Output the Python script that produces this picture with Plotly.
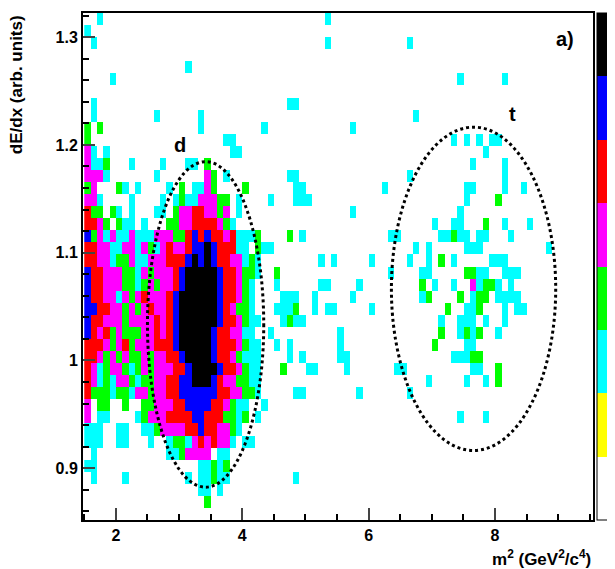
import plotly.graph_objects as go

# 2D histogram: dE/dx vs m^2, levels 1..8 (white, yellow, cyan, green, magenta, red, blue, black)
x_start, x_bin, n_x = 1.5, 0.1, 80
y_start, y_bin, n_y = 0.852, 0.0112, 42

# left part of the histogram (deuteron region), one string per row, top row first
rows_left = [
    "..3",
    "3",
    ".3",
    "",
    "................3",
    "....3",
    "",
    ".3...............................3",
    ".3.........3......3",
    "4.4...............3.........3",
    "4.....................33",
    "53.3...................33",
    "5334...3....3...33.4",
    "5553.......3.......54.3..........3",
    "45...43.3....3.4.3354....4........3",
    "553....3....3.343355544.3....3.....3",
    "644.43.3...33.455665545.3",
    "6654.433.3...44556666543",
    "7453533533355544676766563334....4",
    "66553355354356556778766633.433",
    "6655344533555666787876655343",
    "7665554435455567888887665443..4",
    "766555443454556788888766543...3",
    "766553545655567888888766543....33",
    "776655454565567888888765443...33.4",
    "7665554555565678888887665433...33.3",
    "765645444556567888887665533..3",
    "6665456455566678888876665433..3",
    "6654545445455667888876654333....3",
    "6534554345455566788887665433...4",
    "6534355434455667788876554433",
    "6444344355455667777776655443.....3",
    "5.44..4..44555667777665433..3",
    "5.33....345556666776664434.3",
    "333..33..3345555667665543",
    "333..33...3..34435656553.33",
    ".3...........3345555.33",
    "33................33434",
    ".3....3.........3.33433..........3",
    "..................33.3",
    "...................4",
    "",
]

# sparse cells further right (column, row-from-bottom, level)
right_col = [38, 38, 51, 59, 66, 32, 52, 42, 58, 60, 62, 64, 65, 63, 61, 66, 66, 32, 51,
             33, 47, 60, 61, 66, 69, 33, 34, 60, 65, 42, 59,
             55, 58, 59, 63, 66, 70,
             34, 48, 49, 56, 57, 58, 59, 60, 62, 63, 67,
             52, 54, 60, 61, 62, 73,
             37, 39, 45, 51, 54, 56, 58, 64, 65, 66,
             48, 53, 54, 60, 61, 62, 63, 66, 67, 68,
             37, 38, 43, 53, 55, 58, 61, 62, 63, 64, 65, 67,
             33, 36, 42, 53, 54, 59, 61, 62, 63, 65, 66, 67, 68,
             32, 36, 38, 39, 45, 57, 60, 61, 62, 66, 68, 69,
             32, 33, 34, 56, 59, 60, 61, 63, 66,
             40, 56, 59, 60, 61, 62, 65,
             32, 40, 55, 60, 61,
             32, 34, 40, 41, 58, 59, 60, 61, 62,
             35, 36, 41, 49, 50, 61, 62, 65,
             54, 60, 63, 65,
             34, 43, 51,
             59, 63]
right_row = [41, 39, 39, 36, 36, 34, 33, 32, 31, 31, 31, 31, 31, 30, 29, 29, 28, 28, 28,
             27, 27, 27, 27, 27, 27, 26, 26, 26, 26, 25, 25,
             24, 24, 24, 24, 24, 24,
             23, 23, 23, 23, 23, 23, 23, 23, 23, 23, 23,
             22, 22, 22, 22, 22, 22,
             21, 21, 21, 21, 21, 21, 21, 21, 21, 21,
             20, 20, 20, 20, 20, 20, 20, 20, 20, 20,
             19, 19, 19, 19, 19, 19, 19, 19, 19, 19, 19, 19,
             18, 18, 18, 18, 18, 18, 18, 18, 18, 18, 18, 18, 18,
             17, 17, 17, 17, 17, 17, 17, 17, 17, 17, 17, 17,
             16, 16, 16, 16, 16, 16, 16, 16, 16,
             15, 15, 15, 15, 15, 15, 15,
             14, 14, 14, 14, 14,
             13, 13, 13, 13, 13, 13, 13, 13, 13,
             12, 12, 12, 12, 12, 12, 12, 12,
             11, 11, 11, 11,
             10, 10, 10,
             8, 8]
right_level = [3, 3, 3, 3, 3, 3, 3, 3, 3, 3, 3, 3, 3, 3, 3, 3, 3, 3, 3,
               3, 3, 3, 3, 3, 3, 3, 3, 3, 4, 3, 3,
               3, 3, 3, 4, 3, 3,
               3, 3, 3, 3, 3, 4, 3, 3, 3, 3, 3,
               3, 3, 3, 3, 3, 3,
               3, 3, 3, 3, 3, 4, 3, 3, 3, 3,
               3, 3, 3, 4, 4, 3, 3, 3, 3, 3,
               3, 3, 3, 4, 3, 3, 5, 3, 4, 4, 3, 3,
               3, 3, 3, 3, 4, 4, 3, 4, 4, 3, 3, 3, 3,
               3, 3, 3, 3, 3, 4, 3, 3, 4, 3, 3, 3,
               4, 3, 3, 3, 3, 3, 3, 3, 3,
               3, 4, 3, 4, 3, 4, 3,
               3, 3, 4, 3, 3,
               3, 3, 3, 3, 3, 3, 3, 4, 4,
               3, 3, 3, 3, 3, 3, 3, 4,
               3, 3, 3, 4,
               3, 3, 3,
               3, 3]

# build the grid (row 0 = bottom)
z = [[None] * n_x for _ in range(n_y)]
for k, s in enumerate(rows_left):
    j = n_y - 1 - k
    for i, ch in enumerate(s):
        if ch != ".":
            z[j][i] = int(ch)
for i, j, v in zip(right_col, right_row, right_level):
    z[j][i] = v

level_colors = ["#ffffff", "#ffff00", "#00ffff", "#00ff00", "#ff00ff", "#ff0000", "#0000ff", "#000000"]
cs = []
for k, c in enumerate(level_colors):
    cs.append([k / 8, c])
    cs.append([(k + 1) / 8, c])

fig = go.Figure(go.Heatmap(
    z=z, x0=x_start + x_bin / 2, dx=x_bin, y0=y_start + y_bin / 2, dy=y_bin,
    zmin=0.5, zmax=8.5, colorscale=cs, hoverongaps=False,
    colorbar=dict(x=1.007, xanchor="left", y=0, yanchor="bottom", len=1, lenmode="fraction",
                  thickness=13, outlinecolor="black", outlinewidth=1, xpad=0, ypad=0,
                  tickvals=[1, 2, 3, 4, 5, 6, 7, 8], ticks="inside", ticklen=3,
                  showticklabels=False),
))

# ellipses around the d and t bands
d_center, d_half = (3.42, 1.0335), (0.92, 0.151)
t_center, t_half = (7.66, 1.0665), (1.30, 0.15)
for (cx, cy), (hx, hy) in [(d_center, d_half), (t_center, t_half)]:
    fig.add_shape(type="circle", xref="x", yref="y",
                  x0=cx - hx, x1=cx + hx, y0=cy - hy, y1=cy + hy,
                  line=dict(color="black", width=3, dash="dot"))

bold = dict(family="Liberation Sans", size=20, color="black")
fig.add_annotation(x=3.01, y=1.2, text="<b>d</b>", showarrow=False, font=bold)
fig.add_annotation(x=8.28, y=1.229, text="<b>t</b>", showarrow=False, font=bold)
fig.add_annotation(x=9.1, y=1.298, text="<b>a)</b>", showarrow=False, font=bold)
fig.add_annotation(xref="paper", yref="paper", x=1.045, y=0.0, xanchor="left", yanchor="bottom",
                   text="<b>1</b>", showarrow=False, borderpad=0,
                   font=dict(family="Liberation Sans", size=16, color="black"))
fig.add_annotation(xref="paper", yref="paper", x=1.0, y=-0.075, xanchor="right", yanchor="middle",
                   text="<b>m<sup>2</sup> (GeV<sup>2</sup>/c<sup>4</sup>)</b>", showarrow=False,
                   font=dict(family="Liberation Sans", size=17, color="black"))
fig.add_annotation(xref="paper", yref="paper", x=-0.13, y=1.0, xanchor="center", yanchor="top",
                   text="<b>dE/dx (arb. units)</b>", textangle=-90, showarrow=False,
                   font=dict(family="Liberation Sans", size=17, color="black"))

fig.update_xaxes(range=[1.48, 9.55], tickvals=[2, 4, 6, 8],
                 ticktext=["<b>2</b>", "<b>4</b>", "<b>6</b>", "<b>8</b>"],
                 ticks="inside", ticklen=12,
                 tickwidth=2, showline=True, linecolor="black", linewidth=2, mirror=True,
                 showgrid=False, zeroline=False,
                 minor=dict(dtick=0.5, tick0=0, ticks="inside", ticklen=6, tickcolor="black"),
                 tickfont=dict(family="Liberation Sans", size=16, color="black"))
fig.update_yaxes(range=[0.852, 1.3224], tickvals=[0.9, 1.0, 1.1, 1.2, 1.3],
                 ticktext=["<b>0.9</b>", "<b>1</b>", "<b>1.1</b>", "<b>1.2</b>", "<b>1.3</b>"],
                 ticks="inside", ticklen=12, tickwidth=2, showline=True, linecolor="black",
                 linewidth=2, mirror=True, showgrid=False, zeroline=False,
                 minor=dict(dtick=0.02, tick0=0, ticks="inside", ticklen=6, tickcolor="black"),
                 tickfont=dict(family="Liberation Sans", size=16, color="black"))

fig.update_layout(width=615, height=569,
                  margin=dict(l=75, r=30, t=5, b=57, autoexpand=False),
                  plot_bgcolor="white", paper_bgcolor="white", showlegend=False)

fig.write_html("out.html")
